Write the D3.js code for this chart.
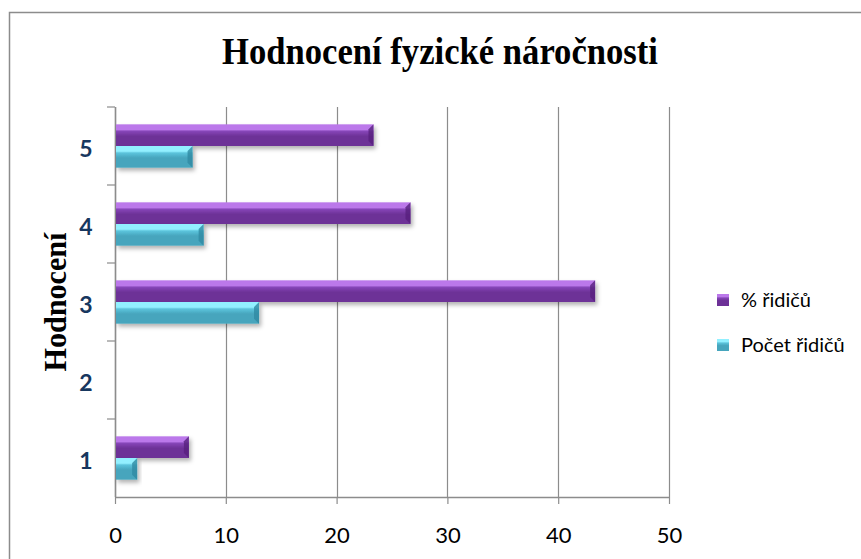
<!DOCTYPE html>
<html>
<head>
<meta charset="utf-8">
<script src="https://cdn.jsdelivr.net/npm/d3@7"></script>
<style>
  body { margin: 0; background: #fff; }
  svg { display: block; }
</style>
</head>
<body>
<svg id="chart" width="861" height="559"></svg>
<script>
// data
var categories = ["1", "2", "3", "4", "5"];
var seriesNames = ["% řidičů", "Počet řidičů"];   // top bar, bottom bar
var percentDrivers = [6.67, 0, 43.33, 26.67, 23.33];
var countDrivers = [2, 0, 13, 8, 7];
var xTicks = [0, 10, 20, 30, 40, 50];

var title = "Hodnocení fyzické náročnosti";
var yTitle = "Hodnocení";

var colors = {
  "% řidičů": { light: "#bb78ea", mid: "#8646b8", dark: "#6d3197", edge: "#57227e" },
  "Počet řidičů": { light: "#92f0ff", mid: "#5cc4dc", dark: "#46a5bd", edge: "#2f8aa2" }
};

var svg = d3.select("#chart");

var margin = { top: 107, left: 115, right: 192, bottom: 62 };
var width = 861 - margin.left - margin.right,
    height = 559 - margin.top - margin.bottom;

// outer frame of the chart (runs past the window on right and bottom)
svg.append("rect")
  .attr("x", 9.5).attr("y", 12.5)
  .attr("width", 900).attr("height", 600)
  .attr("fill", "#fff")
  .attr("stroke", "#8c8c8c")
  .attr("stroke-width", 1.5);

var defs = svg.append("defs");

var shadow = defs.append("filter").attr("id", "shadow")
  .attr("x", "-10%").attr("y", "-30%").attr("width", "130%").attr("height", "190%");
shadow.append("feDropShadow")
  .attr("dx", 2).attr("dy", 3).attr("stdDeviation", 2)
  .attr("flood-color", "#000").attr("flood-opacity", 0.3);

seriesNames.forEach(function (s, i) {
  var c = colors[s];
  var g = defs.append("linearGradient").attr("id", "grad" + i)
    .attr("x1", 0).attr("y1", 0).attr("x2", 0).attr("y2", 1);
  g.append("stop").attr("offset", "0%").attr("stop-color", c.light);
  g.append("stop").attr("offset", "24%").attr("stop-color", c.light);
  g.append("stop").attr("offset", "32%").attr("stop-color", c.mid);
  g.append("stop").attr("offset", "55%").attr("stop-color", c.dark);
  g.append("stop").attr("offset", "100%").attr("stop-color", c.dark);
});

var plot = svg.append("g")
  .attr("transform", "translate(" + margin.left + "," + margin.top + ")");

var x = d3.scaleLinear().domain([0, 50]).range([0, width]);

var y0 = d3.scaleBand()
  .domain(categories.slice().reverse())
  .range([0, height]);

var y1 = d3.scaleBand()
  .domain(seriesNames)
  .range([0, y0.bandwidth()])
  .paddingOuter(0.8);

// vertical gridlines
plot.append("g")
  .selectAll("line")
  .data(xTicks)
  .join("line")
  .attr("x1", function (d) { return Math.round(x(d)) + 0.5; })
  .attr("x2", function (d) { return Math.round(x(d)) + 0.5; })
  .attr("y1", 0)
  .attr("y2", height)
  .attr("stroke", "#8c8c8c")
  .attr("stroke-width", 1.2);

// x axis
var xAxis = plot.append("g")
  .attr("transform", "translate(0," + height + ")")
  .call(d3.axisBottom(x).tickValues(xTicks).tickSize(7).tickPadding(23).tickSizeOuter(0));
xAxis.select(".domain").attr("stroke", "#8c8c8c").attr("stroke-width", 1.5);
xAxis.selectAll(".tick line").attr("stroke", "#8c8c8c").attr("stroke-width", 1.2);
xAxis.selectAll("text")
  .attr("font-family", "Lato, 'Open Sans', sans-serif")
  .attr("font-size", 22)
  .attr("fill", "#000");

// y axis (ticks at band boundaries, labels centred)
var yAxis = plot.append("g");
yAxis.append("line")
  .attr("x1", 0.5).attr("x2", 0.5)
  .attr("y1", 0).attr("y2", height)
  .attr("stroke", "#8c8c8c").attr("stroke-width", 1.5);
yAxis.selectAll("line.tk")
  .data(categories)
  .join("line")
  .attr("class", "tk")
  .attr("x1", -8).attr("x2", 0)
  .attr("y1", function (d) { return y0(d); })
  .attr("y2", function (d) { return y0(d); })
  .attr("stroke", "#8c8c8c").attr("stroke-width", 1.2);
yAxis.selectAll("text")
  .data(categories)
  .join("text")
  .attr("x", -29)
  .attr("y", function (d) { return y0(d) + y0.bandwidth() / 2 + 3; })
  .attr("dy", "0.36em")
  .attr("text-anchor", "middle")
  .attr("font-family", "Lato, 'Open Sans', sans-serif")
  .attr("font-weight", "bold")
  .attr("font-size", 23)
  .attr("fill", "#17375e")
  .text(function (d) { return d; });

// bars
var rows = categories.map(function (c, i) {
  return { cat: c, values: [
    { name: seriesNames[0], value: percentDrivers[i] },
    { name: seriesNames[1], value: countDrivers[i] }
  ] };
});

var groups = plot.append("g")
  .selectAll("g")
  .data(rows)
  .join("g")
  .attr("transform", function (d) { return "translate(0," + y0(d.cat) + ")"; });

var bars = groups.selectAll("g.bar")
  .data(function (d) { return d.values.filter(function (v) { return v.value > 0; }); })
  .join("g")
  .attr("class", "bar")
  .attr("filter", "url(#shadow)");

bars.append("rect")
  .attr("x", 1)
  .attr("y", function (d) { return y1(d.name); })
  .attr("width", function (d) { return x(d.value) - 1; })
  .attr("height", y1.bandwidth())
  .attr("fill", function (d) { return "url(#grad" + seriesNames.indexOf(d.name) + ")"; });

// bevelled right end
bars.append("path")
  .attr("d", function (d) {
    var x1 = x(d.value), t = y1(d.name), h = y1.bandwidth(), b = 5;
    return "M" + (x1 - b) + "," + (t + b) + "L" + x1 + "," + t +
      "L" + x1 + "," + (t + h) + "L" + (x1 - b) + "," + (t + h - b) + "Z";
  })
  .attr("fill", function (d) { return colors[d.name].edge; })
  .attr("opacity", 0.8);

// title
svg.append("text")
  .attr("x", 440)
  .attr("y", 64)
  .attr("text-anchor", "middle")
  .attr("font-family", "'Liberation Serif', 'Times New Roman', serif")
  .attr("font-weight", "bold")
  .attr("font-size", 37)
  .attr("textLength", 436)
  .attr("lengthAdjust", "spacingAndGlyphs")
  .text(title);

// y axis title
svg.append("text")
  .attr("transform", "translate(66," + (margin.top + height / 2) + ") rotate(-90)")
  .attr("text-anchor", "middle")
  .attr("font-family", "'Liberation Serif', 'Times New Roman', serif")
  .attr("font-weight", "bold")
  .attr("font-size", 31)
  .attr("textLength", 139)
  .attr("lengthAdjust", "spacingAndGlyphs")
  .text(yTitle);

// legend
var legend = svg.append("g")
  .attr("transform", "translate(717,300)");
var li = legend.selectAll("g")
  .data(seriesNames)
  .join("g")
  .attr("transform", function (d, i) { return "translate(0," + i * 45 + ")"; });
li.append("rect")
  .attr("x", 0).attr("y", -6)
  .attr("width", 12).attr("height", 12)
  .attr("fill", function (d, i) { return "url(#grad" + i + ")"; });
li.append("text")
  .attr("x", 24)
  .attr("y", 0)
  .attr("dy", "0.36em")
  .attr("font-family", "Lato, 'Open Sans', sans-serif")
  .attr("font-size", 20)
  .attr("fill", "#000")
  .text(function (d) { return d; });
</script>
</body>
</html>
